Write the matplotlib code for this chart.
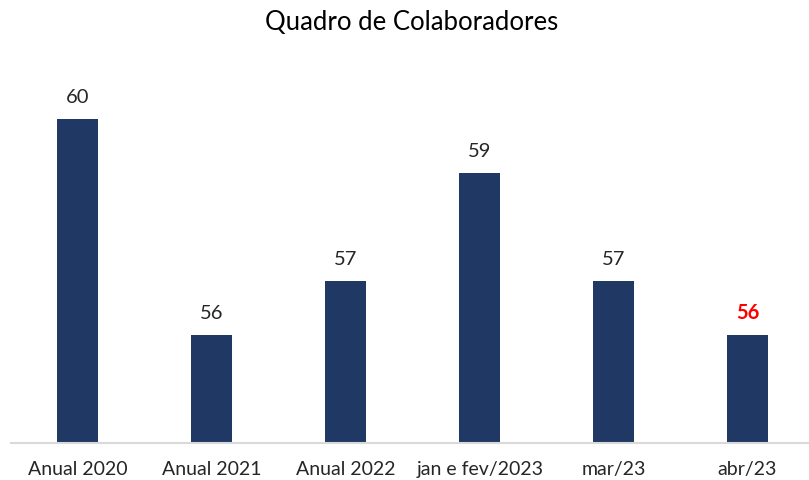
import matplotlib
matplotlib.use("Agg")
import matplotlib.pyplot as plt
import numpy as np

categories = ['Anual 2020', 'Anual 2021', 'Anual 2022', 'jan e fev/2023', 'mar/23', 'abr/23']
values = [60, 56, 57, 59, 57, 56]
title = 'Quadro de Colaboradores'

plt.rcParams['font.family'] = ['Lato', 'DejaVu Sans']

W, H = 809, 480
fig = plt.figure(figsize=(W / 100, H / 100), dpi=100)
# axes in pixel units: left 11, right 814.5, bottom at y=443, top at y=11
ax = fig.add_axes([11 / W, (H - 443) / H, 803.5 / W, 432 / H])

x = np.arange(len(categories))
bars = ax.bar(x, values, width=41 / 133.9, color='#203864', zorder=2)
ax.set_xlim(-0.5, len(categories) - 0.5)
ax.set_ylim(54, 62)

for i, (b, v) in enumerate(zip(bars, values)):
    last = i == len(values) - 1
    ax.annotate(str(v), (b.get_x() + b.get_width() / 2, v),
                xytext=(0, 15.5), textcoords='offset points',
                ha='center', va='center', fontsize=14.5,
                color='#FF0000' if last else '#262626',
                fontweight='bold' if last else 'normal')

ax.set_xticks(x)
ax.set_xticklabels(categories, fontsize=14, color='#262626')
ax.tick_params(axis='x', length=0, pad=13)
ax.set_yticks([])
for s in ['top', 'right', 'left']:
    ax.spines[s].set_visible(False)
ax.spines['bottom'].set_color('#D9D9D9')
ax.spines['bottom'].set_linewidth(1.5)

fig.text(412 / W, 1 - 22 / H, title, ha='center', va='center',
         fontsize=18.5, color='#000000')

fig.savefig('out.png', dpi=100)
